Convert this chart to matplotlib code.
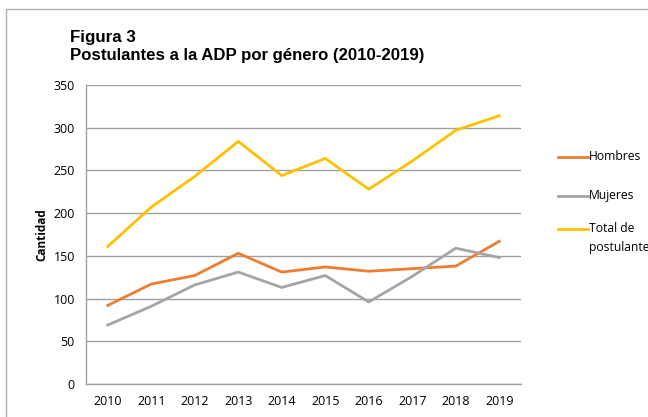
import matplotlib.pyplot as plt
from matplotlib.patches import Rectangle
from matplotlib.lines import Line2D

YEARS = ["2010", "2011", "2012", "2013", "2014", "2015", "2016", "2017", "2018", "2019"]
HOMBRES = [92, 117, 127, 153, 131, 137, 132, 135, 138, 167]
MUJERES = [69, 91, 116, 131, 113, 127, 96, 126, 159, 148]
TOTAL = [161, 207, 243, 284, 244, 264, 228, 261, 297, 314]
SERIES_LABELS = ["Hombres", "Mujeres", "Total de\npostulantes"]
COLORS = ["#ED7D31", "#A5A5A5", "#FFC000"]

W, H = 648, 417
fig = plt.figure(figsize=(W / 100, H / 100), dpi=100)
fig.patch.set_facecolor("white")

# outer chart border
fig.add_artist(Rectangle((6 / W, -0.1), 1.2, (H - 9) / H + 0.1, transform=fig.transFigure,
                         fill=False, edgecolor="#b0b0b0", linewidth=1.0))

ax = fig.add_axes([86 / W, 33 / H, 435 / W, 299 / H])
x = list(range(len(YEARS)))
for vals, color, label in zip([HOMBRES, MUJERES, TOTAL], COLORS, SERIES_LABELS):
    ax.plot(x, vals, color=color, linewidth=2.0, label=label, solid_joinstyle="round")

ax.set_xlim(-0.5, len(YEARS) - 0.5)
ax.set_ylim(0, 350)
ax.set_yticks(range(0, 351, 50))
ax.set_xticks(x)
ax.set_xticklabels(YEARS)
ax.yaxis.grid(True, color="#a0a0a0", linewidth=1.0)
ax.set_axisbelow(True)
for side in ["top", "right"]:
    ax.spines[side].set_visible(False)
for side in ["left", "bottom"]:
    ax.spines[side].set_color("#a0a0a0")
    ax.spines[side].set_linewidth(1.0)
ax.tick_params(length=0, labelsize=9, colors="black", pad=8)
for lab in ax.get_xticklabels() + ax.get_yticklabels():
    lab.set_family("Open Sans")
ax.set_ylabel("Cantidad", fontsize=8.5, fontweight="bold", family="Open Sans", labelpad=4)

fig.text(70 / W, 1 - 42 / H, "Figura 3", fontsize=12.2, fontweight="bold",
         family="Liberation Sans", va="baseline")
fig.text(70 / W, 1 - 60 / H, "Postulantes a la ADP por género (2010-2019)", fontsize=12.1,
         fontweight="bold", family="Liberation Sans", va="baseline")

# legend drawn manually at right
leg_y = [157, 196, 229]
for ypix, color, label in zip(leg_y, COLORS, SERIES_LABELS):
    yf = 1 - ypix / H
    fig.add_artist(Line2D([558 / W, 588 / W], [yf, yf], transform=fig.transFigure,
                          color=color, linewidth=2.0))
    for i, line in enumerate(label.split("\n")):
        fig.text(589 / W, 1 - (ypix + 18 * i) / H, line, fontsize=8.7, family="Open Sans",
                 va="center")

fig.savefig("out.png", dpi=100)
